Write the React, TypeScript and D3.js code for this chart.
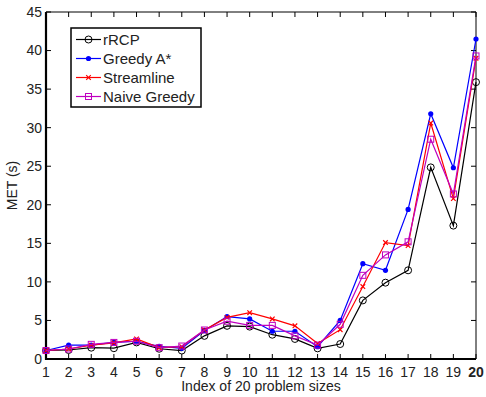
import React, { useRef, useEffect } from 'react'
import * as d3 from 'd3'

const indices = d3.range(1, 21)
const rRCP = [1.1, 1.17, 1.47, 1.4, 2.15, 1.33, 1.1, 3.0, 4.3, 4.2, 3.15, 2.6, 1.38, 1.94, 7.6, 9.9, 11.5, 24.85, 17.3, 35.9]
const greedyA = [1.1, 1.8, 1.8, 2.15, 2.3, 1.65, 1.38, 3.7, 5.5, 5.2, 3.6, 3.6, 1.6, 5.0, 12.36, 11.5, 19.4, 31.8, 24.8, 41.5]
const streamline = [1.1, 1.3, 1.8, 2.1, 2.6, 1.47, 1.6, 3.76, 5.4, 6.0, 5.2, 4.3, 2.0, 3.8, 9.4, 15.1, 14.7, 30.6, 20.8, 39.0]
const naiveGreedy = [1.1, 1.3, 1.9, 2.15, 2.3, 1.47, 1.68, 3.76, 4.9, 4.36, 4.36, 3.0, 1.8, 4.5, 10.85, 13.5, 15.2, 28.5, 21.4, 39.3]
const yTicks = [0, 5, 10, 15, 20, 25, 30, 35, 40, 45]

const series = [
  { name: 'rRCP', values: rRCP, color: '#000000', marker: 'circle' },
  { name: 'Greedy A*', values: greedyA, color: '#0000ff', marker: 'dot' },
  { name: 'Streamline', values: streamline, color: '#ff0000', marker: 'x' },
  { name: 'Naive Greedy', values: naiveGreedy, color: '#bf00bf', marker: 'square' },
]

const font = 'Liberation Sans, Arial, sans-serif'

function drawMarker(g, type, color, cx, cy) {
  if (type === 'circle') {
    g.append('circle').attr('cx', cx).attr('cy', cy).attr('r', 3.5)
      .attr('fill', 'none').attr('stroke', color).attr('stroke-width', 1)
  } else if (type === 'dot') {
    g.append('circle').attr('cx', cx).attr('cy', cy).attr('r', 2.6).attr('fill', color)
  } else if (type === 'x') {
    const s = 2.3
    g.append('path')
      .attr('d', `M${cx - s},${cy - s}L${cx + s},${cy + s}M${cx - s},${cy + s}L${cx + s},${cy - s}`)
      .attr('stroke', color).attr('stroke-width', 1.2)
  } else {
    g.append('rect').attr('x', cx - 3).attr('y', cy - 3).attr('width', 6).attr('height', 6)
      .attr('fill', 'none').attr('stroke', color).attr('stroke-width', 1)
  }
}

export default function App() {
  const svgRef = useRef(null)

  useEffect(() => {
    const width = 486
    const height = 397
    const margin = { top: 12, right: 10, bottom: 38, left: 46 }

    const svg = d3.select(svgRef.current)
    svg.selectAll('*').remove()

    const x = d3.scaleLinear().domain([1, 20]).range([margin.left, width - margin.right])
    const y = d3.scaleLinear().domain([0, 45]).range([height - margin.bottom, margin.top])

    svg.append('rect').attr('width', width).attr('height', height).attr('fill', '#fff')

    const x0 = x.range()[0], x1 = x.range()[1]
    const y0 = y.range()[0], y1 = y.range()[1]

    // tick marks (inside, mirrored)
    const ticks = svg.append('g').attr('stroke', '#000').attr('stroke-width', 1)
    indices.forEach(i => {
      ticks.append('line').attr('x1', x(i)).attr('x2', x(i)).attr('y1', y0).attr('y2', y0 - 5)
      ticks.append('line').attr('x1', x(i)).attr('x2', x(i)).attr('y1', y1).attr('y2', y1 + 5)
    })
    yTicks.forEach(t => {
      ticks.append('line').attr('x1', x0).attr('x2', x0 + 5).attr('y1', y(t)).attr('y2', y(t))
      ticks.append('line').attr('x1', x1).attr('x2', x1 - 5).attr('y1', y(t)).attr('y2', y(t))
    })

    // frame
    svg.append('line').attr('x1', x0).attr('x2', x1).attr('y1', y1).attr('y2', y1).attr('stroke', '#000').attr('stroke-width', 1)
    svg.append('line').attr('x1', x1).attr('x2', x1).attr('y1', y1).attr('y2', y0).attr('stroke', '#000').attr('stroke-width', 1)
    svg.append('line').attr('x1', x0).attr('x2', x0).attr('y1', y1).attr('y2', y0 + 1).attr('stroke', '#000').attr('stroke-width', 2.2)
    svg.append('line').attr('x1', x0 - 1).attr('x2', x1).attr('y1', y0).attr('y2', y0).attr('stroke', '#000').attr('stroke-width', 2.2)

    // tick labels
    svg.append('g').selectAll('text').data(yTicks).join('text')
      .attr('x', x0 - 4).attr('y', d => y(d)).attr('dy', '0.35em')
      .attr('text-anchor', 'end').attr('font-family', font).attr('font-size', 14).attr('fill', '#222')
      .text(d => d)
    svg.append('g').selectAll('text').data(indices).join('text')
      .attr('x', d => x(d)).attr('y', y0 + 18)
      .attr('text-anchor', 'middle').attr('font-family', font).attr('font-size', 14).attr('fill', '#222')
      .attr('font-weight', d => d === 20 ? 'bold' : 'normal')
      .text(d => d)

    // axis titles
    svg.append('text').attr('x', (x0 + x1) / 2).attr('y', height - 6)
      .attr('text-anchor', 'middle').attr('font-family', font).attr('font-size', 14).attr('fill', '#222')
      .text('Index of 20 problem sizes')
    svg.append('text').attr('transform', `translate(17,${(y0 + y1) / 2}) rotate(-90)`)
      .attr('text-anchor', 'middle').attr('font-family', font).attr('font-size', 14).attr('fill', '#222')
      .text('MET (s)')

    // series
    const line = d3.line().x((d, i) => x(indices[i])).y(d => y(d))
    series.forEach(s => {
      const g = svg.append('g')
      g.append('path').attr('d', line(s.values)).attr('fill', 'none')
        .attr('stroke', s.color).attr('stroke-width', 1.2)
      s.values.forEach((v, i) => drawMarker(g, s.marker, s.color, x(indices[i]), y(v)))
    })

    // legend
    const lg = svg.append('g').attr('transform', 'translate(71,28)')
    lg.append('rect').attr('width', 130).attr('height', 79).attr('fill', '#fff')
      .attr('stroke', '#000').attr('stroke-width', 1.5)
    series.forEach((s, i) => {
      const cy = 11.5 + i * 19
      lg.append('line').attr('x1', 5).attr('x2', 30).attr('y1', cy).attr('y2', cy)
        .attr('stroke', s.color).attr('stroke-width', 1.2)
      drawMarker(lg, s.marker, s.color, 17.5, cy)
      lg.append('text').attr('x', 32).attr('y', cy).attr('dy', '0.35em')
        .attr('font-family', font).attr('font-size', 15).attr('fill', '#222')
        .text(s.name)
    })
  }, [])

  return (
    <svg ref={svgRef} width={486} height={397}
      style={{ position: 'absolute', left: 0, top: 0, display: 'block' }} />
  )
}
